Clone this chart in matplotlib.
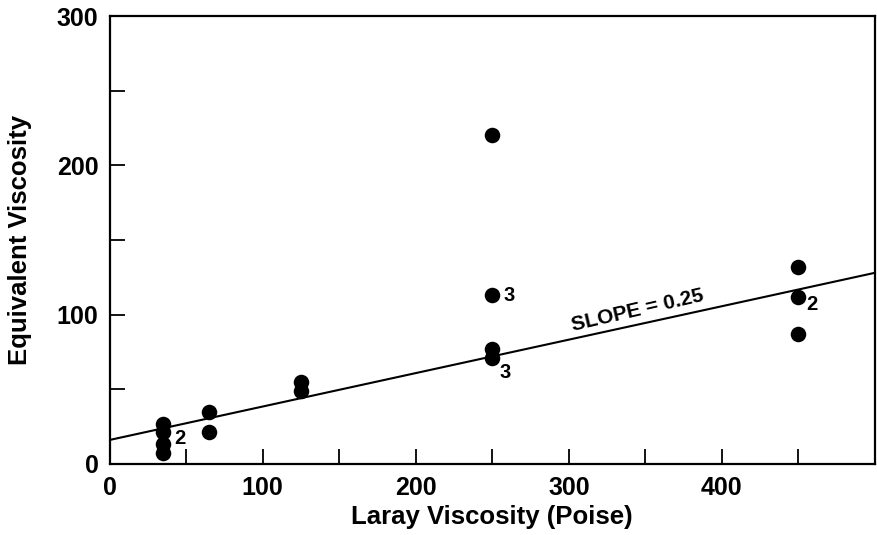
import numpy as np
import matplotlib.pyplot as plt
from matplotlib.ticker import MultipleLocator

plt.rcParams['font.family'] = ['Liberation Sans', 'DejaVu Sans']
plt.rcParams['font.weight'] = 'bold'

# Laray viscosity (poise) vs equivalent viscosity
laray = [35, 35, 35, 35, 65, 65, 125, 125, 250, 250, 250, 250, 450, 450, 450]
equiv = [27, 21, 13, 7, 35, 21, 55, 49, 220, 113, 77, 71, 132, 112, 87]

# multiplicity labels next to points
lab_x = [42, 257, 255, 455]
lab_y = [17, 113, 61, 107]
lab_txt = ['2', '3', '3', '2']

# fitted line ends
fit_x = [0, 500]
fit_y = [16, 128]

fig = plt.figure(figsize=(8.77, 5.35), dpi=100)
ax = fig.add_axes([0.125, 0.133, 0.8727, 0.837])

ax.plot(fit_x, fit_y, color='black', lw=1.5, zorder=2)
ax.scatter(laray, equiv, s=125, color='black', zorder=3, linewidths=0)

for x, y, t in zip(lab_x, lab_y, lab_txt):
    ax.text(x, y, t, fontsize=14.5, fontweight='bold', va='center', ha='left')

ax.text(345, 103, 'SLOPE = 0.25', fontsize=15, fontweight='bold',
        rotation=13, rotation_mode='anchor', ha='center', va='center')

ax.set_xlim(0, 500)
ax.set_ylim(0, 300)
ax.xaxis.set_major_locator(MultipleLocator(100))
ax.xaxis.set_minor_locator(MultipleLocator(50))
ax.yaxis.set_major_locator(MultipleLocator(100))
ax.yaxis.set_minor_locator(MultipleLocator(50))
ax.set_xticks([0, 100, 200, 300, 400])
ax.tick_params(which='both', direction='in', length=11, width=1.3,
               top=False, right=False)
ax.tick_params(axis='x', which='major', pad=9, labelsize=18)
ax.tick_params(axis='y', which='major', pad=8, labelsize=18)
for s in ax.spines.values():
    s.set_linewidth(1.6)

ax.set_xlabel('Laray Viscosity (Poise)', fontsize=18.5, fontweight='bold', labelpad=3)
ax.set_ylabel('Equivalent Viscosity', fontsize=18.5, fontweight='bold', labelpad=18)

fig.savefig('out.png', dpi=100)
